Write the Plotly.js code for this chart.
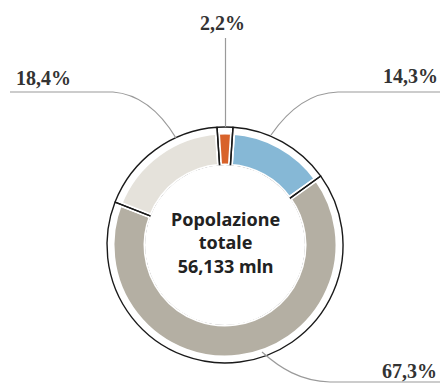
<!DOCTYPE html>
<html><head><meta charset="utf-8">
<script src="https://cdn.plot.ly/plotly-3.0.1.min.js"></script>
<style>html,body{margin:0;padding:0;background:#fff}</style>
</head><body><div id="chart" style="width:443px;height:383px"></div>
<script>
// ---- data ----
const sliceLabels = ['14,3%', '67,3%', '18,4%', '2,2%'];
const sliceValues = [14.3, 67.3, 18.4, 2.2];
const centerLines = ['Popolazione', 'totale', '56,133 mln'];

// ---- styles ----
const sliceColors = ['#86b8d6', '#b4afa3', '#e5e2db', '#d8622a'];
const W = 443, H = 383;
const CX = 225, CY = 245;           // donut centre (px)
const R_COL = 113, R_IN = 79, R_RING = 118;

function dom(r) {
  return {
    x: [(CX - r) / W, (CX + r) / W],
    y: [(H - CY - r) / H, (H - CY + r) / H]
  };
}
function px(x, y) { return (x / W).toFixed(5) + ',' + (1 - y / H).toFixed(5); }

const total = sliceValues.reduce((a, b) => a + b, 0);
const rot = 180 * sliceValues[sliceValues.length - 1] / total; // centre last slice at 12 o'clock

const common = {
  type: 'pie', values: sliceValues, labels: sliceLabels, sort: false,
  direction: 'clockwise', rotation: rot, textinfo: 'none', hoverinfo: 'label',
  showlegend: false
};

const traces = [
  Object.assign({}, common, {
    domain: dom(R_COL), hole: R_IN / R_COL,
    marker: { colors: sliceColors, line: { color: '#ffffff', width: 5 } }
  }),
  Object.assign({}, common, {
    domain: dom(R_RING), hole: R_IN / R_RING, hoverinfo: 'skip',
    marker: { colors: sliceValues.map(() => 'rgba(0,0,0,0)'), line: { color: '#1a1a1a', width: 1.4 } }
  }),
  {
    type: 'pie', values: [1], labels: [''], domain: dom(R_IN + 1), textinfo: 'none',
    hoverinfo: 'skip', showlegend: false, sort: false,
    marker: { colors: ['#ffffff'], line: { color: '#ffffff', width: 0 } }
  }
];

const leader = { color: '#9a9a9a', width: 1.2 };
const shapes = [
  { type: 'path', xref: 'paper', yref: 'paper', line: leader,
    path: 'M' + px(225.5, 38) + ' L' + px(225.5, 127) },
  { type: 'path', xref: 'paper', yref: 'paper', line: leader,
    path: 'M' + px(10, 92) + ' L' + px(113, 92) + ' Q' + px(150, 95) + ' ' + px(176, 138) },
  { type: 'path', xref: 'paper', yref: 'paper', line: leader,
    path: 'M' + px(440, 92) + ' L' + px(338, 92) + ' Q' + px(300, 93) + ' ' + px(271, 135) },
  { type: 'path', xref: 'paper', yref: 'paper', line: leader,
    path: 'M' + px(262, 352) + ' C' + px(280, 368) + ' ' + px(300, 381) + ' ' + px(330, 382) + ' L' + px(440, 382) }
];

const labelFont = { family: 'Liberation Serif, serif', size: 20, color: '#333333', weight: 'bold' };
const labelPos = [[410, 76], [409, 371], [43, 78], [222, 23]];
const annotations = sliceLabels.map((t, i) => ({
  text: t, xref: 'paper', yref: 'paper', showarrow: false,
  x: labelPos[i][0] / W, y: 1 - labelPos[i][1] / H, xanchor: 'center', yanchor: 'middle',
  font: labelFont
}));
annotations.push({
  text: centerLines.join('<br>'), xref: 'paper', yref: 'paper', showarrow: false,
  x: 226 / W, y: 1 - 243 / H, xanchor: 'center', yanchor: 'middle', align: 'center',
  font: { family: 'Noto Sans, sans-serif', size: 18, color: '#222222', weight: 'bold' }
});

Plotly.newPlot('chart', traces, {
  width: W, height: H, margin: { l: 0, r: 0, t: 0, b: 0 },
  paper_bgcolor: '#ffffff', plot_bgcolor: '#ffffff',
  shapes: shapes, annotations: annotations
}, { displayModeBar: false, staticPlot: true });
</script></body></html>
